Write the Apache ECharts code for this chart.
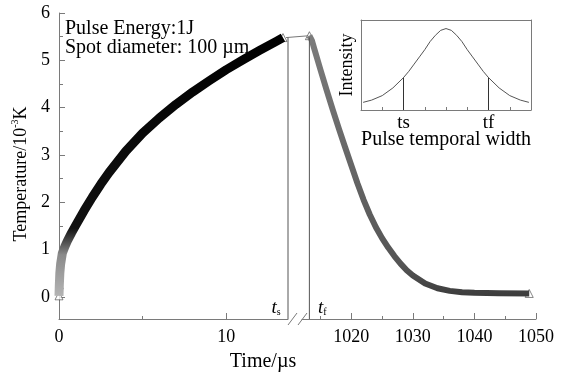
<!DOCTYPE html>
<html>
<head>
<meta charset="utf-8">
<script src="https://cdn.jsdelivr.net/npm/echarts@6/dist/echarts.min.js"></script>
<style>
html, body { margin: 0; padding: 0; background: #fff; }
#chart { width: 561px; height: 374px; }
</style>
</head>
<body>
<div id="chart"></div>
<script>
// heating part, before the axis break (time in us, temperature in 10^3 K)
const heatTime = [0, 0.02, 0.05, 0.1, 0.2, 0.35, 0.5, 0.75, 1, 1.5, 2, 2.5, 3, 4, 5, 6, 7, 8, 9, 10, 11, 12, 13, 13.4];
const heatTemp = [0.02, 0.25, 0.5, 0.7, 0.92, 1.06, 1.18, 1.35, 1.51, 1.82, 2.11, 2.38, 2.63, 3.08, 3.46, 3.78, 4.07, 4.33, 4.57, 4.8, 5.01, 5.21, 5.4, 5.48];
// cooling part, after the break
const coolTime = [1013.2, 1013.6, 1014, 1015, 1016, 1017, 1018, 1019, 1020, 1021, 1022, 1023, 1024, 1025, 1026, 1027, 1028, 1029, 1030, 1032, 1034, 1036, 1038, 1040, 1044, 1048.9];
const coolTemp = [5.52, 5.42, 5.24, 4.8, 4.37, 3.95, 3.55, 3.16, 2.78, 2.4, 2.05, 1.74, 1.47, 1.24, 1.04, 0.86, 0.7, 0.56, 0.45, 0.28, 0.18, 0.125, 0.097, 0.084, 0.075, 0.07];
// ts / tf marks
const tsTime = 13.7;
const tfTime = 1013.2;
const markTop = 5.48;

// tick labels
const yTicks = [0, 1, 2, 3, 4, 5, 6];
const yMinor = [0.5, 1.5, 2.5, 3.5, 4.5, 5.5];
const leftTicks = [0, 10];
const leftMinor = [5];
const rightTicks = [1020, 1030, 1040, 1050];
const rightMinor = [1015, 1025, 1035, 1045];

// inset: pulse profile
const pulsePos = [0.1, 0.5, 1, 1.5, 2, 2.25, 2.5, 2.75, 3, 3.25, 3.5, 3.75, 4, 4.25, 4.5, 4.75, 5, 5.25, 5.5, 5.75, 6, 6.5, 7, 7.5, 7.9];
const pulseInt = [0.085, 0.11, 0.16, 0.245, 0.36, 0.43, 0.51, 0.59, 0.67, 0.76, 0.83, 0.885, 0.905, 0.885, 0.83, 0.76, 0.67, 0.59, 0.51, 0.43, 0.36, 0.245, 0.16, 0.11, 0.085];
const pulseTicks = [0, 1, 2, 3, 4, 5, 6, 7, 8];
const pulseMarks = [2, 6];
const pulseMarkNames = ['ts', 'tf'];
const pulseMarkLevel = 0.36;

const serif = '"Liberation Serif", "Times New Roman", serif';
const gray = '#7a7a7a';
const yMin = -0.47;

const zip = (a, b) => a.map((v, i) => [v, b[i]]);

function axis(grid, min, max, pos, ticks, len, labels, extra) {
  return Object.assign({
    gridIndex: grid, type: 'value', min: min, max: max, position: pos,
    axisLine: { show: false, onZero: false, lineStyle: { color: gray, width: 1 } },
    axisTick: { show: !!ticks, inside: true, length: len, customValues: ticks || [], lineStyle: { color: gray } },
    axisLabel: labels ? {
      customValues: labels, color: '#000', fontFamily: serif, fontSize: 18, margin: 9,
      formatter: v => String(v)
    } : { show: false },
    splitLine: { show: false }
  }, extra || {});
}
const shownLine = { axisLine: { show: true, onZero: false, lineStyle: { color: gray } } };

const chart = echarts.init(document.getElementById('chart'));

const option = {
  animation: false,
  backgroundColor: '#fff',
  grid: [
    { left: 59, top: 13, width: 229, height: 306 },
    { left: 302, top: 13, width: 234, height: 306 },
    { left: 361, top: 20, width: 170, height: 90 }
  ],
  xAxis: [
    axis(0, 0, tsTime, 'bottom', leftTicks, 6, leftTicks, shownLine),
    axis(0, 0, tsTime, 'bottom', leftMinor, 3, null),
    axis(1, 1012, 1050, 'bottom', rightTicks, 6, rightTicks, shownLine),
    axis(1, 1012, 1050, 'bottom', rightMinor, 3, null),
    axis(2, 0, 8, 'bottom', pulseTicks, 3, pulseMarks, {
      axisLine: { show: true, onZero: false, lineStyle: { color: gray } },
      axisLabel: {
        customValues: pulseMarks, color: '#000', fontFamily: serif, fontSize: 19, margin: 4,
        formatter: v => pulseMarkNames[pulseMarks.indexOf(v)]
      }
    }),
    axis(2, 0, 8, 'top', null, 0, null, shownLine)
  ],
  yAxis: [
    axis(0, yMin, 6, 'left', yTicks, 6, yTicks, shownLine),
    axis(0, yMin, 6, 'left', yMinor, 4, null),
    axis(1, yMin, 6, 'left', null, 0, null),
    axis(2, 0, 1, 'left', null, 0, null, shownLine),
    axis(2, 0, 1, 'right', null, 0, null, shownLine)
  ],
  series: [
    {
      type: 'line', xAxisIndex: 0, yAxisIndex: 0, data: zip(heatTime, heatTemp),
      smooth: false, symbol: 'none',
      lineStyle: {
        width: 9, join: 'round',
        color: new echarts.graphic.LinearGradient(0, 1, 0, 0, [
          { offset: 0, color: '#b8b8b8' },
          { offset: 0.17, color: '#8a8a8a' },
          { offset: 0.27, color: '#111' },
          { offset: 1, color: '#000' }
        ])
      }
    },
    {
      type: 'scatter', xAxisIndex: 0, yAxisIndex: 0,
      data: zip(heatTime, heatTemp).slice(0, 2).concat(zip(heatTime, heatTemp).slice(-1)),
      symbol: 'triangle', symbolSize: 8,
      itemStyle: { color: '#fff', borderColor: '#444', borderWidth: 0.8 }
    },
    {
      type: 'line', xAxisIndex: 2, yAxisIndex: 2, data: zip(coolTime, coolTemp),
      smooth: false, symbol: 'none',
      lineStyle: {
        width: 6, join: 'round',
        color: new echarts.graphic.LinearGradient(0, 1, 0, 0, [
          { offset: 0, color: '#3c3c3c' },
          { offset: 0.12, color: '#555' },
          { offset: 1, color: '#7c7c7c' }
        ])
      }
    },
    {
      type: 'scatter', xAxisIndex: 2, yAxisIndex: 2,
      data: zip(coolTime, coolTemp).slice(0, 1).concat(zip(coolTime, coolTemp).slice(-1)),
      symbol: 'triangle', symbolSize: 8,
      itemStyle: { color: '#fff', borderColor: '#444', borderWidth: 0.8 }
    },
    {
      type: 'line', xAxisIndex: 0, yAxisIndex: 0, data: [[tsTime, yMin], [tsTime, markTop]],
      symbol: 'none', lineStyle: { width: 1, color: '#555' }
    },
    {
      type: 'line', xAxisIndex: 2, yAxisIndex: 2, data: [[tfTime, yMin], [tfTime, markTop]],
      symbol: 'none', lineStyle: { width: 1, color: '#555' }
    },
    {
      type: 'line', xAxisIndex: 4, yAxisIndex: 3, data: zip(pulsePos, pulseInt),
      smooth: false, symbol: 'none', lineStyle: { width: 1, color: '#555', join: 'round' }
    },
    {
      type: 'line', xAxisIndex: 4, yAxisIndex: 3, data: [[pulseMarks[0], 0], [pulseMarks[0], pulseMarkLevel]],
      symbol: 'none', lineStyle: { width: 1, color: '#333' }
    },
    {
      type: 'line', xAxisIndex: 4, yAxisIndex: 3, data: [[pulseMarks[1], 0], [pulseMarks[1], pulseMarkLevel]],
      symbol: 'none', lineStyle: { width: 1, color: '#333' }
    }
  ]
};
chart.setOption(option);

// break marks, ts-tf link and text, placed from the axes
const axisY = chart.convertToPixel({ yAxisIndex: 0 }, yMin);
const breakX = chart.convertToPixel({ xAxisIndex: 0 }, tsTime);
const peakL = chart.convertToPixel({ xAxisIndex: 0, yAxisIndex: 0 }, [heatTime[heatTime.length - 1], heatTemp[heatTemp.length - 1]]);
const peakR = chart.convertToPixel({ xAxisIndex: 2, yAxisIndex: 2 }, [coolTime[0], coolTemp[0]]);
const tfX = chart.convertToPixel({ xAxisIndex: 2 }, tfTime);

const txt = (x, y, text, size, opts) => Object.assign({
  type: 'text', x: x, y: y,
  style: Object.assign({ text: text, fill: '#000', font: size + 'px ' + serif, align: 'left', verticalAlign: 'top' }, (opts && opts.style) || {})
}, opts && opts.rotation ? { rotation: opts.rotation } : {});

const sub = (main, small, x, y) => ({
  type: 'text', x: x, y: y,
  style: {
    text: '{t|' + main + '}{s|' + small + '}', align: 'center', verticalAlign: 'middle',
    rich: {
      t: { fontFamily: serif, fontStyle: 'italic', fontSize: 19, fill: '#000' },
      s: { fontFamily: serif, fontSize: 10, fill: '#000', verticalAlign: 'bottom' }
    }
  }
});

chart.setOption({
  graphic: [
    { type: 'line', shape: { x1: breakX, y1: axisY + 6, x2: breakX + 9, y2: axisY - 6 }, style: { stroke: gray, lineWidth: 1 } },
    { type: 'line', shape: { x1: breakX + 10, y1: axisY + 6, x2: breakX + 19, y2: axisY - 6 }, style: { stroke: gray, lineWidth: 1 } },
    { type: 'line', shape: { x1: peakL[0] + 3, y1: peakL[1], x2: peakR[0], y2: peakR[1] }, style: { stroke: '#777', lineWidth: 1 } },
    txt(65, 19, 'Pulse Energy:1J', 20),
    txt(65, 38, 'Spot diameter: 100 \u00b5m', 20),
    {
      type: 'text', x: 21, y: 174, rotation: Math.PI / 2,
      style: {
        text: '{a|Temperature/10}{s|-3}{a|K}', align: 'center', verticalAlign: 'middle',
        rich: {
          a: { fontFamily: serif, fontSize: 18, fill: '#000', lineHeight: 22 },
          s: { fontFamily: serif, fontSize: 10, fill: '#000', verticalAlign: 'top', lineHeight: 22 }
        }
      }
    },
    txt(263, 362, 'Time/\u00b5s', 20, { style: { align: 'center', verticalAlign: 'middle' } }),
    sub('t', 's', breakX - 12, 308),
    sub('t', 'f', tfX + 13, 308),
    txt(347, 65, 'Intensity', 18, { rotation: Math.PI / 2, style: { align: 'center', verticalAlign: 'middle' } }),
    txt(446, 140, 'Pulse temporal width', 20, { style: { align: 'center', verticalAlign: 'middle' } })
  ]
});
</script>
</body>
</html>
